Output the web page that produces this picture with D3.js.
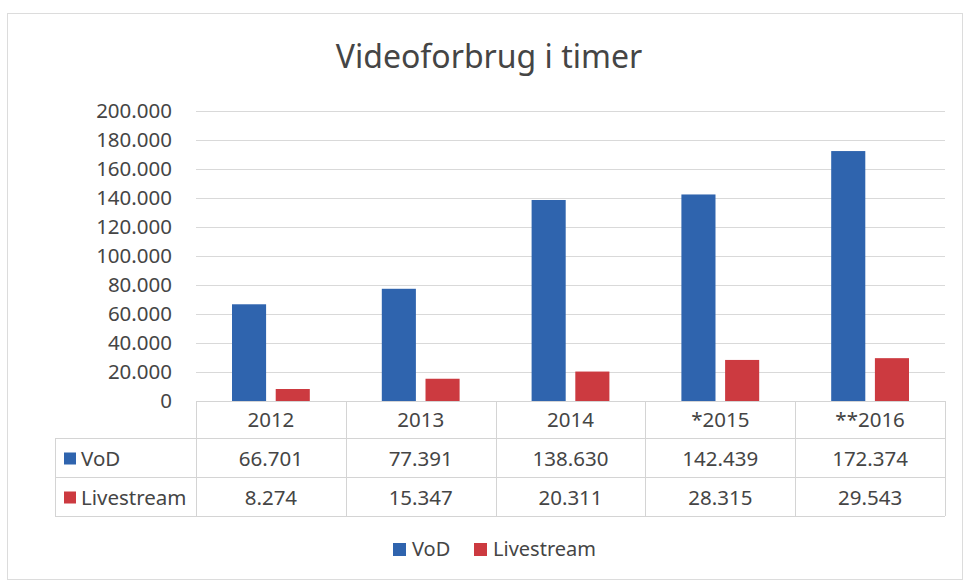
<!DOCTYPE html>
<html>
<head>
<meta charset="utf-8">
<script src="https://cdn.jsdelivr.net/npm/d3@7"></script>
<style>
    body { margin: 0; background: #fff; }
    text { font-family: "Noto Sans", "Open Sans", sans-serif; fill: #454545; }
</style>
</head>
<body>
<div id="chart"></div>
<script>
// data
const years = ["2012", "2013", "2014", "*2015", "**2016"];
const seriesNames = ["VoD", "Livestream"];
const vod = [66701, 77391, 138630, 142439, 172374];
const livestream = [8274, 15347, 20311, 28315, 29543];
const yTicks = [0, 20000, 40000, 60000, 80000, 100000, 120000, 140000, 160000, 180000, 200000];
const colors = { "VoD": "#2f64ae", "Livestream": "#cc3a40" };

const width = 964;
const height = 582;

// plot area
const plotLeft = 196, plotRight = 945, plotTop = 111, plotBottom = 401;
const labelLeft = 55;
const rowH = [37, 39, 39];

const fmt = v => v === 0 ? "0" : d3.format(",")(v).replace(/,/g, ".");

const svg = d3.select("#chart").append("svg")
    .attr("width", width)
    .attr("height", height);

// ydre ramme
svg.append("rect")
    .attr("x", 7.5).attr("y", 13.5)
    .attr("width", 955).attr("height", 566)
    .attr("fill", "none")
    .attr("stroke", "#dcdcdc");

svg.append("text")
    .attr("x", 489).attr("y", 68)
    .attr("text-anchor", "middle")
    .style("font-size", "32px")
    .text("Videoforbrug i timer");

const x = d3.scaleBand().domain(years).range([plotLeft, plotRight]);
const bw = x.bandwidth();
const xSub = d3.scaleBand().domain(seriesNames).range([36, bw - 36]).paddingInner(0.22);
const y = d3.scaleLinear().domain([0, 200000]).range([plotBottom, plotTop]);

// gitterlinjer
svg.append("g").selectAll("line")
    .data(yTicks.slice(1))
    .join("line")
    .attr("x1", plotLeft).attr("x2", plotRight)
    .attr("y1", d => Math.round(y(d)) + 0.5)
    .attr("y2", d => Math.round(y(d)) + 0.5)
    .attr("stroke", "#d9d9d9");

// y-akse
const yAxis = svg.append("g")
    .attr("transform", `translate(${plotLeft}, 0)`)
    .call(d3.axisLeft(y).tickValues(yTicks).tickFormat(fmt).tickSize(0).tickPadding(24));
yAxis.select(".domain").remove();
yAxis.selectAll("text")
    .style("font-size", "20.5px")
    .style("font-family", "'Noto Sans', sans-serif")
    .attr("fill", "#454545");

// staplerne
const rows = years.map((yr, i) => ({ year: yr, VoD: vod[i], Livestream: livestream[i] }));

svg.append("g").selectAll("g")
    .data(rows)
    .join("g")
    .attr("transform", d => `translate(${x(d.year)}, 0)`)
    .selectAll("rect")
    .data(d => seriesNames.map(s => ({ key: s, value: d[s] })))
    .join("rect")
    .attr("x", d => xSub(d.key))
    .attr("y", d => y(d.value))
    .attr("width", xSub.bandwidth())
    .attr("height", d => plotBottom - y(d.value))
    .attr("fill", d => colors[d.key]);

// datatabel
const table = svg.append("g");
const r0 = plotBottom, r1 = r0 + rowH[0], r2 = r1 + rowH[1], r3 = r2 + rowH[2];
const lineColor = "#d4d4d4";

function hline(x1, x2, yy) {
    table.append("line")
        .attr("x1", x1).attr("x2", x2)
        .attr("y1", yy + 0.5).attr("y2", yy + 0.5)
        .attr("stroke", lineColor);
}
function vline(xx, y1, y2) {
    table.append("line")
        .attr("x1", xx + 0.5).attr("x2", xx + 0.5)
        .attr("y1", y1).attr("y2", y2)
        .attr("stroke", lineColor);
}

hline(plotLeft, plotRight, r0);
hline(labelLeft, plotRight, r1);
hline(labelLeft, plotRight, r2);
hline(labelLeft, plotRight, r3);
vline(labelLeft, r1, r3);
years.forEach(yr => vline(Math.round(x(yr)), r0, r3));
vline(plotRight, r0, r3);

table.selectAll(".yr")
    .data(years)
    .join("text")
    .attr("x", d => x(d) + bw / 2)
    .attr("y", (r0 + r1) / 2 + 7)
    .attr("text-anchor", "middle")
    .style("font-size", "20.5px")
    .text(d => d);

const tableRows = [
    { name: "VoD", values: vod, y0: r1, y1: r2 },
    { name: "Livestream", values: livestream, y0: r2, y1: r3 }
];

tableRows.forEach(row => {
    const cy = (row.y0 + row.y1) / 2;
    table.append("rect")
        .attr("x", 64).attr("y", cy - 5)
        .attr("width", 12).attr("height", 12)
        .attr("fill", colors[row.name]);
    table.append("text")
        .attr("x", 81).attr("y", cy + 8)
        .style("font-size", "20.5px")
        .text(row.name);
    table.selectAll(null)
        .data(row.values)
        .join("text")
        .attr("x", (d, i) => x(years[i]) + bw / 2)
        .attr("y", cy + 8)
        .attr("text-anchor", "middle")
        .style("font-size", "20.5px")
        .text(d => fmt(d));
});

// signaturforklaring
const legend = svg.append("g");
const legendItems = [{ name: "VoD", x: 393 }, { name: "Livestream", x: 474 }];
legendItems.forEach(item => {
    legend.append("rect")
        .attr("x", item.x).attr("y", 543)
        .attr("width", 13).attr("height", 13)
        .attr("fill", colors[item.name]);
    legend.append("text")
        .attr("x", item.x + 19).attr("y", 556)
        .style("font-size", "20px")
        .text(item.name);
});
</script>
</body>
</html>
